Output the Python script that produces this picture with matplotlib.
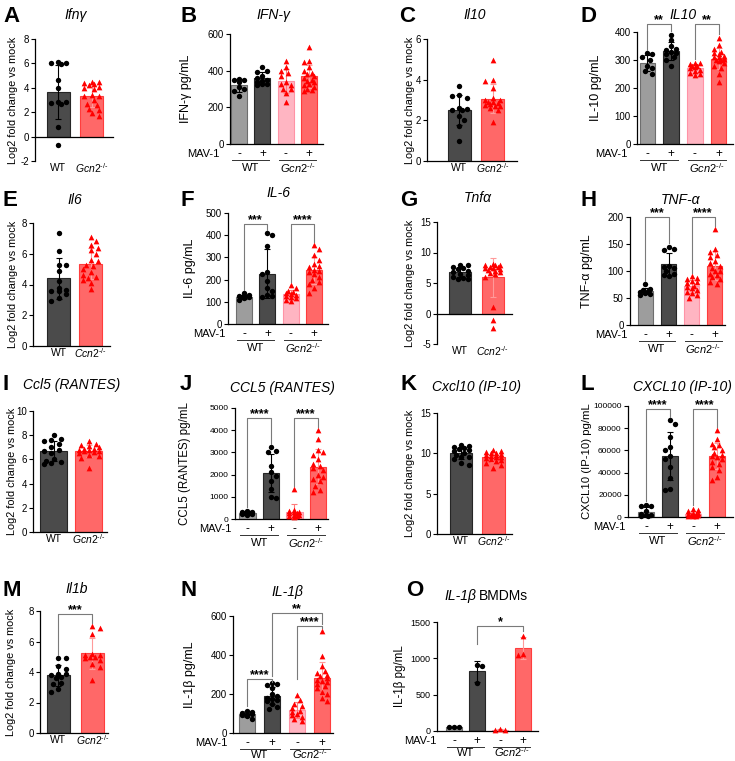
import numpy as np
import matplotlib
matplotlib.use("Agg")
import matplotlib.pyplot as plt

plt.rcParams["font.family"] = ["Liberation Sans", "DejaVu Sans"]
plt.rcParams["mathtext.fontset"] = "custom"
plt.rcParams["mathtext.rm"] = "Liberation Sans"
plt.rcParams["mathtext.it"] = "Liberation Sans:italic"
plt.rcParams["mathtext.bf"] = "Liberation Sans:bold"
plt.rcParams["axes.unicode_minus"] = False

# --- values ---
# A  Ifng (log2 fold change vs mock)
ifng_rna_wt = [5.95, 6.0, 6.05, 6.15, 4.6, 3.95, 2.85, 2.8, 2.75, 2.7, 0.75, -0.65]
ifng_rna_ko = [4.5, 4.45, 4.4, 4.3, 4.2, 4.1, 3.95, 3.9, 3.4, 3.35, 3.3, 3.0, 2.7, 2.6, 2.3, 2.2, 1.9, 1.7]
# B  IFN-g pg/mL
ifng_wt_mock = [355, 350, 350, 340, 310, 300, 290, 260]
ifng_wt_mav = [420, 400, 395, 370, 360, 350, 345, 340, 330, 325, 320]
ifng_ko_mock = [455, 420, 400, 390, 370, 340, 330, 320, 300, 300, 280, 230]
ifng_ko_mav = [530, 455, 445, 420, 400, 390, 380, 370, 360, 350, 345, 340, 330, 320, 310, 300, 295, 290]
# C  Il10
il10_rna_wt = [3.7, 3.25, 3.2, 3.1, 2.6, 2.55, 2.5, 2.5, 2.2, 2.0, 1.7, 1.0]
il10_rna_ko = [4.95, 4.0, 3.95, 3.6, 3.1, 3.0, 3.0, 2.9, 2.9, 2.85, 2.8, 2.75, 2.7, 2.7, 2.6, 2.5, 1.9]
# D  IL-10 pg/mL
il10_wt_mock = [325, 320, 310, 300, 280, 270, 260, 250]
il10_wt_mav = [390, 370, 350, 340, 335, 330, 325, 320, 310, 300, 280]
il10_ko_mock = [290, 290, 285, 280, 280, 275, 270, 265, 260, 255, 250, 245]
il10_ko_mav = [380, 355, 340, 330, 325, 320, 315, 310, 310, 305, 300, 300, 295, 290, 280, 270, 250, 220]
# E  Il6
il6_rna_wt = [7.35, 6.2, 5.3, 5.25, 4.9, 4.2, 3.8, 3.65, 3.6, 3.55, 3.35, 3.1, 2.9]
il6_rna_ko = [7.1, 6.85, 6.6, 6.4, 6.25, 6.0, 5.6, 5.5, 5.3, 5.2, 5.0, 4.8, 4.6, 4.5, 4.45, 4.3, 4.1, 3.7]
# F  IL-6 pg/mL
il6_wt_mock = [140, 130, 125, 125, 120, 120, 115, 110]
il6_wt_mav = [410, 400, 350, 235, 225, 195, 160, 150, 130, 125, 120]
il6_ko_mock = [175, 160, 150, 145, 140, 135, 130, 125, 120, 115, 110, 105]
il6_ko_mav = [355, 340, 310, 290, 270, 260, 255, 245, 240, 235, 225, 210, 200, 190, 180, 160, 140]
# G  Tnfa
tnf_rna_wt = [8.0, 7.9, 7.7, 7.5, 7.3, 7.0, 6.8, 6.5, 6.3, 6.0, 5.8, 5.7, 5.6]
tnf_rna_ko = [8.1, 8.0, 7.9, 7.9, 7.7, 7.6, 7.5, 7.4, 7.3, 7.2, 7.0, 6.8, 6.6, 6.4, 6.0, 1.1, -1.1, -2.4]
# H  TNF-a pg/mL
tnf_wt_mock = [75, 67, 65, 63, 62, 60, 58, 55]
tnf_wt_mav = [145, 140, 138, 110, 108, 105, 100, 95, 93, 90]
tnf_ko_mock = [90, 87, 85, 82, 80, 77, 73, 70, 68, 65, 62, 60, 55, 50]
tnf_ko_mav = [178, 140, 135, 130, 125, 118, 115, 110, 105, 100, 100, 95, 92, 88, 85, 80, 75]
# I  Ccl5
ccl5_rna_wt = [8.0, 7.7, 7.6, 7.5, 7.3, 7.0, 6.8, 6.7, 6.5, 6.0, 5.9, 5.8, 5.7, 5.6]
ccl5_rna_ko = [7.5, 7.3, 7.2, 7.1, 7.0, 6.9, 6.9, 6.8, 6.8, 6.7, 6.7, 6.6, 6.5, 6.4, 6.3, 6.1, 5.3]
# J  CCL5 pg/mL
ccl5_wt_mock = [380, 330, 300, 280, 260, 250, 240, 230, 200]
ccl5_wt_mav = [3250, 3050, 3000, 2400, 2100, 1950, 1700, 1350, 1000, 950]
ccl5_ko_mock = [1350, 400, 350, 300, 300, 250, 250, 200, 200, 150, 150, 100]
ccl5_ko_mav = [4000, 3600, 3100, 3000, 2900, 2700, 2500, 2400, 2300, 2200, 2000, 1900, 1800, 1700, 1500, 1300, 1200]
# K  Cxcl10
cxcl10_rna_wt = [11.0, 10.9, 10.8, 10.6, 10.5, 10.4, 10.3, 10.0, 9.8, 9.6, 9.5, 9.3, 8.8, 8.6]
cxcl10_rna_ko = [10.4, 10.3, 10.2, 10.1, 10.0, 9.9, 9.8, 9.8, 9.7, 9.6, 9.5, 9.4, 9.3, 9.2, 9.0, 8.8, 8.6, 8.2]
# L  CXCL10 pg/mL
cxcl10_wt_mock = [11000, 10000, 9500, 5000, 3000, 2000, 1500, 1000, 500]
cxcl10_wt_mav = [87000, 84000, 72000, 63000, 60000, 55000, 52000, 45000, 35000, 25000, 24000]
cxcl10_ko_mock = [7500, 6000, 5000, 4000, 3500, 3000, 2500, 2000, 1500, 1000, 500, 500]
cxcl10_ko_mav = [78000, 70000, 66000, 65000, 63000, 60000, 58000, 56000, 55000, 54000, 52000,
                 50000, 48000, 45000, 42000, 36000, 33000]
# M  Il1b
il1b_rna_wt = [4.9, 4.9, 4.4, 4.2, 3.9, 3.85, 3.8, 3.7, 3.6, 3.3, 3.2, 2.9, 2.7]
il1b_rna_ko = [7.0, 6.9, 6.5, 5.2, 5.1, 5.1, 5.0, 5.0, 4.9, 4.8, 4.5, 4.3, 3.5]
# N  IL-1b pg/mL
il1b_wt_mock = [115, 110, 105, 100, 95, 90, 85, 70]
il1b_wt_mav = [255, 250, 245, 230, 200, 190, 180, 175, 170, 165, 150, 135, 125]
il1b_ko_mock = [195, 170, 150, 140, 130, 115, 110, 100, 90, 80, 70, 60]
il1b_ko_mav = [525, 395, 345, 320, 310, 300, 290, 280, 270, 265, 260, 250, 240, 230, 210, 200, 180, 165]
# O  IL-1b BMDMs pg/mL
bmdm_wt_mock = [60, 55, 50]
bmdm_wt_mav = [915, 900, 655]
bmdm_ko_mock = [25, 20, 15]
bmdm_ko_mav = [1310, 1055, 1050]

W, H = 735, 761
fig = plt.figure(figsize=(W / 100, H / 100), dpi=100)

# face, edge, errorbar, marker colour, marker
STY = {
    "gray": ("#9d9d9d", "#6e6e6e", "black", "black", "o"),
    "dark": ("#4b4b4b", "#262626", "black", "black", "o"),
    "pink": ("#ffb5c2", "#ff93a6", "#ff7a7a", "#ff0000", "^"),
    "red": ("#ff6868", "#ff3d3d", "#ff9a9a", "#ff0000", "^"),
}
TWO = ["dark", "red"]
FOUR = ["gray", "dark", "pink", "red"]
GCN = r"$\mathit{Gcn2}^{\text{-/-}}$"
CCN = r"$\mathit{Ccn2}^{\text{-/-}}$"


def px_axes(x0, x1, y0, y1):
    return fig.add_axes([x0 / W, 1 - y1 / H, (x1 - x0) / W, (y1 - y0) / H])


def ftext(x, y, s, **kw):
    kw.setdefault("ha", "center")
    kw.setdefault("va", "center")
    fig.text(x / W, 1 - y / H, s, **kw)


def swarm(ax, xc, vals, width, rx=7.5, ry=5.0):
    # spread points sideways (in pixels) so they don't overlap, GraphPad style
    pts = ax.transData.transform(np.column_stack([np.full(len(vals), xc), vals]))
    x0 = pts[0, 0]
    half = ax.transData.transform((xc + width / 2, 0))[0] - x0 - 2.5
    steps = np.arange(rx / 3, half + 1e-9, rx / 3)
    placed, dx = [], np.zeros(len(vals))
    for n, k in enumerate(np.argsort(vals)[::-1]):
        sgn = 1 if n % 2 else -1
        cands = [0.0] + [s for st in steps for s in (sgn * st, -sgn * st)]
        y = pts[k, 1]
        best, best_gap = 0.0, -1.0
        for c in cands:
            gap = min((np.hypot((c - px) / rx, (y - py) / ry) for px, py in placed),
                      default=np.inf)
            if gap >= 1:
                best = c
                break
            if gap > best_gap:
                best, best_gap = c, gap
        placed.append((best, y))
        dx[k] = best
    return ax.transData.inverted().transform(np.column_stack([x0 + dx, pts[:, 1]]))[:, 0]


def bar_panel(box, xlim, ylim, yticks, groups, kinds, width=0.68, tick_fs=7):
    ax = px_axes(*box)
    ax.set_xlim(*xlim)
    ax.set_ylim(*ylim)
    ax.set_yticks(yticks)
    ax.set_xticks([])
    for s in ("top", "right"):
        ax.spines[s].set_visible(False)
    for s in ("left", "bottom"):
        ax.spines[s].set_linewidth(0.9)
    if ylim[0] < 0:
        ax.spines["bottom"].set_position(("data", 0))
    ax.tick_params(axis="y", length=3, width=0.8, pad=1.5, labelsize=tick_fs)
    for i, (vals, kind) in enumerate(zip(groups, kinds)):
        fc, ec, errc, mc, mk = STY[kind]
        v = np.asarray(vals, float)
        m, sd = v.mean(), v.std(ddof=1)
        ax.bar(i, m, width, color=fc, edgecolor=ec, linewidth=0.8, zorder=2)
        ax.errorbar(i, m, yerr=sd, fmt="none", ecolor=errc, elinewidth=0.8,
                    capsize=2.5, capthick=0.8, zorder=3)
        ax.scatter(swarm(ax, i, v, width), v, s=17 if mk == "^" else 15, marker=mk,
                   color=mc, linewidths=0, zorder=4, clip_on=False)
    return ax


def under(ax, x, dy, s, **kw):
    h = ax.get_window_extent().height
    ax.annotate(s, xy=(x, -dy / h), xycoords=("data", "axes fraction"), ha="center",
                va="center", annotation_clip=False, **kw)


def two_labels(ax, ko=GCN):
    under(ax, 0, 7, "WT", fontsize=7.5)
    under(ax, 1, 7, ko, fontsize=7.5)


def mav_labels(ax, mav_x, dy=24):
    bb = ax.get_window_extent()
    h = bb.height
    for i, s in enumerate("-+-+"):
        under(ax, i, 10, s, fontsize=8.5)
    for g, lab in ((0, "WT"), (2, GCN)):
        ax.plot([g - 0.3, g + 1.3], [-16 / h] * 2, transform=ax.get_xaxis_transform(),
                color="#333333", lw=0.7, clip_on=False)
        under(ax, g + 0.5, dy, lab, fontsize=8)
    ftext(mav_x, H - bb.y0 + 10, "MAV-1", ha="right", fontsize=8)


def bracket(ax, groups, i, j, y, label, legs=None):
    if legs is None:
        lo, hi = ax.get_ylim()
        gap = 0.03 * (hi - lo)
        legs = (max(groups[i]) + gap, max(groups[j]) + gap)
    ax.plot([i, i, j, j], [legs[0], y, y, legs[1]], color="#7a7a7a", lw=0.8,
            clip_on=False, zorder=5)
    ax.annotate(label, xy=((i + j) / 2, y), xytext=(0, -1.5), textcoords="offset points",
                ha="center", va="bottom", fontsize=9, fontweight="bold",
                annotation_clip=False)


def heading(letter, lxy, title, txy, ylabel, yl_x, ax, yl_fs=9):
    ftext(lxy[0], lxy[1], letter, ha="left", fontsize=16, fontweight="bold")
    if title:
        ftext(txy[0], txy[1], title, style="italic", fontsize=10)
    bb = ax.get_window_extent()
    ftext(yl_x, H - (bb.y0 + bb.y1) / 2, ylabel, rotation=90, fontsize=yl_fs)


LOG2 = "Log2 fold change vs mock"

# row 1
g = [ifng_rna_wt, ifng_rna_ko]
ax = bar_panel((35, 113, 39, 161), (-0.70, 1.63), (-2, 8), range(-2, 9, 2), g, TWO, 0.69)
two_labels(ax)
heading("A", (3, 16), "Ifnγ", (76, 15), LOG2, 13, ax, 7.8)

g = [ifng_wt_mock, ifng_wt_mav, ifng_ko_mock, ifng_ko_mav]
ax = bar_panel((230, 323, 34, 144), (-0.39, 3.6), (0, 600), range(0, 601, 200), g, FOUR, 0.69)
mav_labels(ax, 220)
heading("B", (181, 16), "IFN-γ", (273, 15), "IFN-γ pg/mL", 186, ax)

g = [il10_rna_wt, il10_rna_ko]
ax = bar_panel((427, 517, 39, 161), (-0.98, 1.74), (0, 6), range(0, 7, 2), g, TWO, 0.70)
two_labels(ax)
heading("C", (399, 16), "Il10", (475, 15), LOG2, 410, ax, 7.8)

g = [il10_wt_mock, il10_wt_mav, il10_ko_mock, il10_ko_mav]
ax = bar_panel((637, 733, 32, 144), (-0.44, 3.61), (0, 400), range(0, 401, 100), g, FOUR, 0.66)
mav_labels(ax, 628)
bracket(ax, g, 0, 1, 430, "**")
bracket(ax, g, 2, 3, 430, "**")
heading("D", (581, 16), "IL10", (683, 15), "IL-10 pg/mL", 596, ax)

# row 2
g = [il6_rna_wt, il6_rna_ko]
ax = bar_panel((33, 110, 223, 346), (-0.80, 1.61), (0, 8), range(0, 9, 2), g, TWO, 0.71)
two_labels(ax, CCN)
heading("E", (3, 200), "Il6", (75, 200), LOG2, 13, ax, 7.8)

g = [il6_wt_mock, il6_wt_mav, il6_ko_mock, il6_ko_mav]
ax = bar_panel((228, 328, 213, 324), (-0.69, 3.6), (0, 500), range(0, 501, 100), g, FOUR, 0.68)
mav_labels(ax, 225)
bracket(ax, g, 0, 1, 450, "***")
bracket(ax, g, 2, 3, 450, "****")
heading("F", (181, 200), "IL-6", (278, 193), "IL-6 pg/mL", 190, ax)

g = [tnf_rna_wt, tnf_rna_ko]
ax = bar_panel((437, 512, 222, 344), (-0.70, 1.58), (-5, 15), range(-5, 16, 5), g, TWO, 0.69)
two_labels(ax, CCN)
heading("G", (400, 200), "Tnfα", (478, 198), LOG2, 410, ax, 7.8)

g = [tnf_wt_mock, tnf_wt_mav, tnf_ko_mock, tnf_ko_mav]
ax = bar_panel((630, 725, 217, 325), (-0.67, 3.45), (0, 200), range(0, 201, 50), g, FOUR, 0.68)
mav_labels(ax, 627)
bracket(ax, g, 0, 1, 200, "***")
bracket(ax, g, 2, 3, 200, "****")
heading("H", (581, 200), "TNF-α", (680, 200), "TNF-α pg/mL", 587, ax)

# row 3
g = [ccl5_rna_wt, ccl5_rna_ko]
ax = bar_panel((33, 107, 411, 532), (-0.59, 1.53), (0, 10), range(0, 11, 2), g, TWO, 0.77)
two_labels(ax)
heading("I", (3, 385), "Ccl5 (RANTES)", (72, 385), LOG2, 12, ax, 7.8)

g = [ccl5_wt_mock, ccl5_wt_mav, ccl5_ko_mock, ccl5_ko_mav]
ax = bar_panel((235, 328, 408, 519), (-0.53, 3.43), (0, 5000), range(0, 5001, 1000), g, FOUR,
               0.70, tick_fs=6)
mav_labels(ax, 232)
bracket(ax, g, 0, 1, 4550, "****")
bracket(ax, g, 2, 3, 4550, "****")
heading("J", (180, 385), "CCL5 (RANTES)", (282, 388), "CCL5 (RANTES) pg/mL", 185, ax, 8.3)

g = [cxcl10_rna_wt, cxcl10_rna_ko]
ax = bar_panel((437, 512, 413, 534), (-0.74, 1.57), (0, 15), range(0, 16, 5), g, TWO, 0.70)
two_labels(ax)
heading("K", (400, 385), "Cxcl10 (IP-10)", (477, 387), LOG2, 410, ax, 7.8)

g = [cxcl10_wt_mock, cxcl10_wt_mav, cxcl10_ko_mock, cxcl10_ko_mav]
ax = bar_panel((628, 733, 406, 517), (-0.76, 3.68), (0, 100000), range(0, 100001, 20000), g,
               FOUR, 0.68, tick_fs=6)
mav_labels(ax, 626)
bracket(ax, g, 0, 1, 97000, "****")
bracket(ax, g, 2, 3, 97000, "****")
heading("L", (581, 385), "CXCL10 (IP-10)", (682, 387), "CXCL10 (IP-10) pg/mL", 587, ax, 8.2)

# row 4
g = [il1b_rna_wt, il1b_rna_ko]
ax = bar_panel((40, 108, 611, 733), (-0.54, 1.46), (0, 8), range(0, 9, 2), g, TWO, 0.68)
two_labels(ax)
bracket(ax, g, 0, 1, 7.8, "***")
heading("M", (3, 590), "Il1b", (77, 589), LOG2, 11, ax, 7.8)

g = [il1b_wt_mock, il1b_wt_mav, il1b_ko_mock, il1b_ko_mav]
ax = bar_panel((233, 333, 616, 733), (-0.56, 3.44), (0, 600), range(0, 601, 200), g, FOUR, 0.64)
mav_labels(ax, 228, dy=21.5)
bracket(ax, g, 0, 1, 277, "****", (140, 262))
bracket(ax, g, 1, 3, 615, "**", (290, 560))
bracket(ax, g, 2, 3, 550, "****", (275, 540))
heading("N", (181, 590), "IL-1β", (287, 592), "IL-1β pg/mL", 190, ax)

g = [bmdm_wt_mock, bmdm_wt_mav, bmdm_ko_mock, bmdm_ko_mav]
ax = bar_panel((437, 538, 622, 731), (-0.74, 3.65), (0, 1500), range(0, 1501, 500), g, FOUR,
               0.70, tick_fs=6.5)
mav_labels(ax, 437, dy=21.5)
bracket(ax, g, 1, 3, 1440, "*", (1200, 1370))
heading("O", (406, 590), None, None, "IL-1β pg/mL", 400, ax, 8.3)
ftext(476, 596, "IL-1β", ha="right", style="italic", fontsize=10)
ftext(479, 596, "BMDMs", ha="left", fontsize=10)

fig.savefig("out.png", dpi=100)
